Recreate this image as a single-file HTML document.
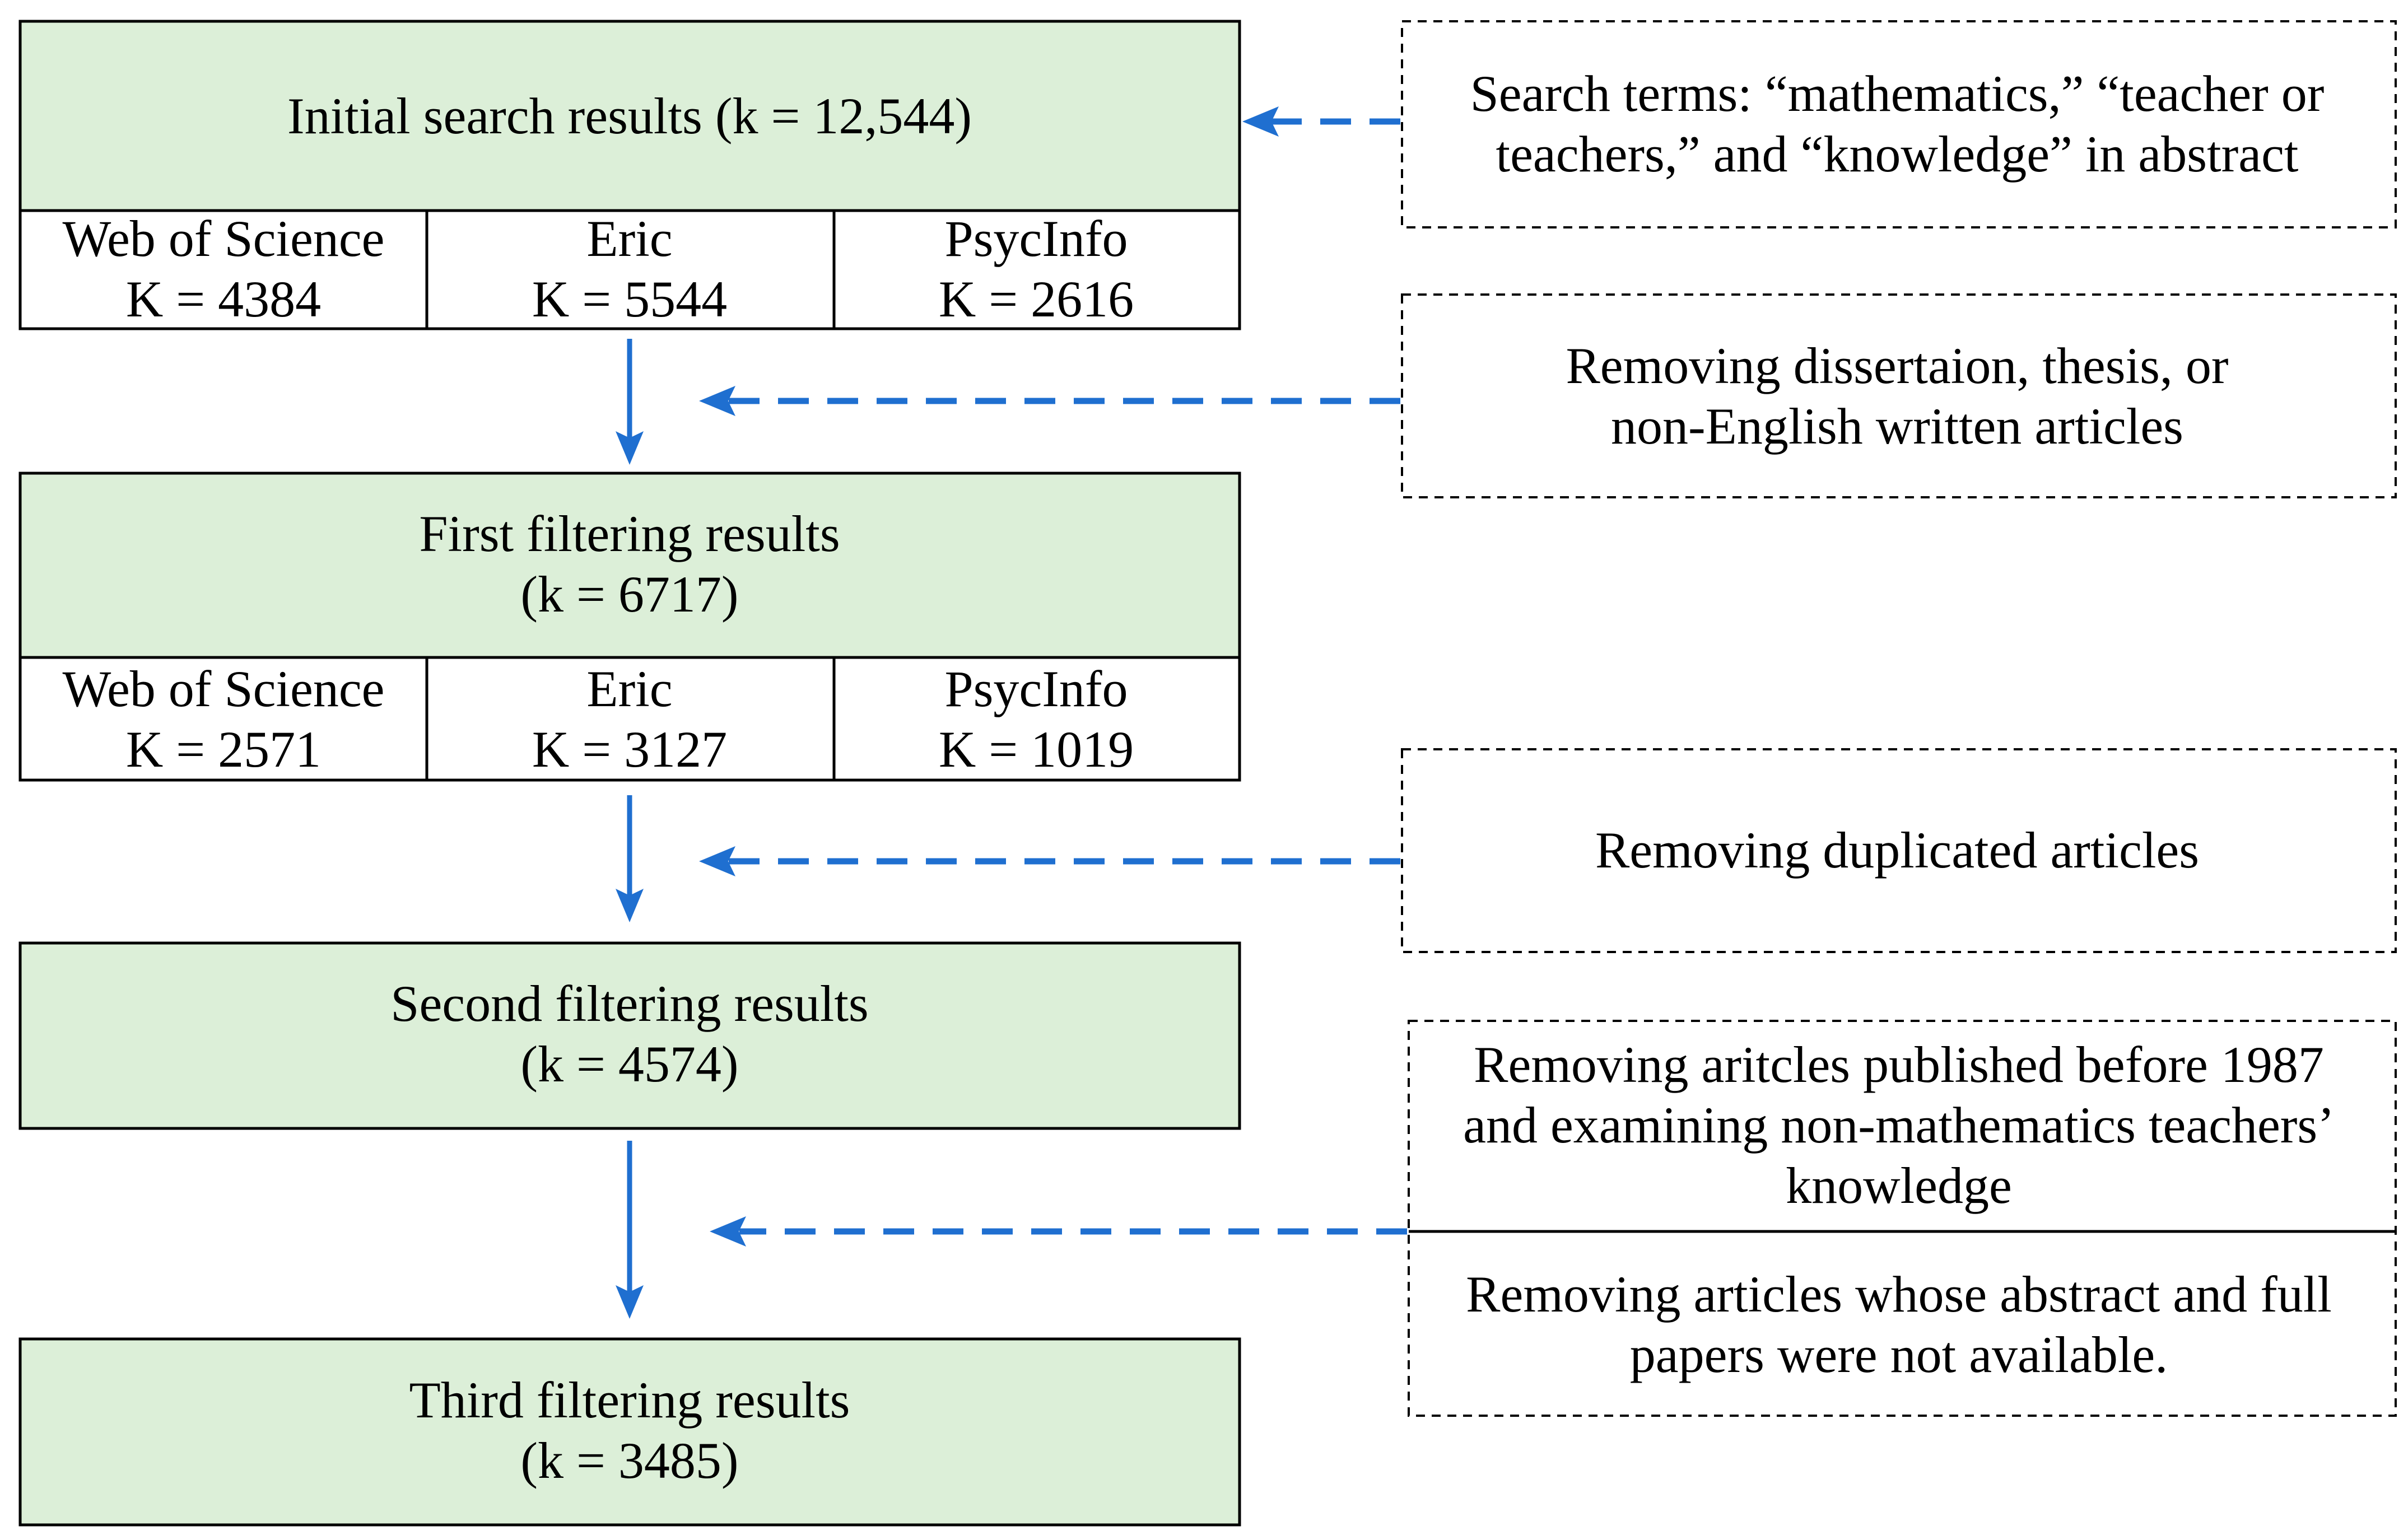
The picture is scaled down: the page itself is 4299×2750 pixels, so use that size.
<!DOCTYPE html>
<html><head><meta charset="utf-8"><style>html,body{margin:0;padding:0;background:#fff}svg{display:block}</style></head>
<body>
<svg width="4299" height="2750" viewBox="0 0 4299 2750" xmlns="http://www.w3.org/2000/svg" font-family="'Liberation Serif', serif" font-size="92" fill="#000">
<g stroke="#000" stroke-width="5">
<rect x="36" y="38" width="2177" height="338" fill="#dcefd8"/>
<rect x="36" y="376" width="2177" height="211" fill="#fff"/>
<line x1="762" y1="376" x2="762" y2="587"/><line x1="1489" y1="376" x2="1489" y2="587"/>
<rect x="36" y="845" width="2177" height="329" fill="#dcefd8"/>
<rect x="36" y="1174" width="2177" height="219" fill="#fff"/>
<line x1="762" y1="1174" x2="762" y2="1393"/><line x1="1489" y1="1174" x2="1489" y2="1393"/>
<rect x="36" y="1684" width="2177" height="331" fill="#dcefd8"/>
<rect x="36" y="2391" width="2177" height="332" fill="#dcefd8"/>
</g>
<g stroke="#000" stroke-width="4" stroke-dasharray="16 12" fill="none">
<rect x="2503" y="38" width="1774" height="368"/>
<rect x="2503" y="526" width="1774" height="362"/>
<rect x="2503" y="1338" width="1774" height="362"/>
<rect x="2515" y="1823" width="1762" height="705"/>
</g>
<line x1="2515" y1="2199" x2="4277" y2="2199" stroke="#000" stroke-width="5"/>
<g stroke="#1f6fd0" stroke-width="9" fill="none">
<line x1="1124" y1="605" x2="1124" y2="790"/>
<line x1="1124" y1="1420" x2="1124" y2="1607"/>
<line x1="1124" y1="2037" x2="1124" y2="2315"/>
</g>
<g fill="#1f6fd0">
<path d="M1124,830 L1099,770 L1124,782 L1149,770 z"/>
<path d="M1124,1647 L1099,1587 L1124,1599 L1149,1587 z"/>
<path d="M1124,2355 L1099,2295 L1124,2307 L1149,2295 z"/>
</g>
<g stroke="#1f6fd0" stroke-width="11" fill="none" stroke-dasharray="55 33">
<line x1="2500" y1="217" x2="2250" y2="217"/>
<line x1="2500" y1="716" x2="1300" y2="716"/>
<line x1="2500" y1="1538" x2="1300" y2="1538"/>
<line x1="2512" y1="2199" x2="1320" y2="2199"/>
</g>
<g fill="#1f6fd0">
<path d="M2218,217 L2283,190 L2270,217 L2283,244 z"/>
<path d="M1248,716 L1313,689 L1300,716 L1313,743 z"/>
<path d="M1248,1538 L1313,1511 L1300,1538 L1313,1565 z"/>
<path d="M1267,2199 L1332,2172 L1319,2199 L1332,2226 z"/>
</g>
<g text-anchor="middle">
<text x="1124" y="238">Initial search results (k = 12,544)</text>
<text x="399" y="457">Web of Science</text><text x="399" y="565">K = 4384</text>
<text x="1124" y="457">Eric</text><text x="1124" y="565">K = 5544</text>
<text x="1850" y="457">PsycInfo</text><text x="1850" y="565">K = 2616</text>
<text x="1124" y="984">First filtering results</text>
<text x="1124" y="1092">(k = 6717)</text>
<text x="399" y="1261">Web of Science</text><text x="399" y="1369">K = 2571</text>
<text x="1124" y="1261">Eric</text><text x="1124" y="1369">K = 3127</text>
<text x="1850" y="1261">PsycInfo</text><text x="1850" y="1369">K = 1019</text>
<text x="1124" y="1823">Second filtering results</text>
<text x="1124" y="1931">(k = 4574)</text>
<text x="1124" y="2531">Third filtering results</text>
<text x="1124" y="2639">(k = 3485)</text>
<text x="3387" y="198">Search terms: “mathematics,” “teacher or</text>
<text x="3387" y="306">teachers,” and “knowledge”  in abstract</text>
<text x="3387" y="684">Removing dissertaion, thesis, or</text>
<text x="3387" y="792">non-English written articles</text>
<text x="3387" y="1549">Removing duplicated articles</text>
<text x="3390" y="1932">Removing aritcles published before 1987</text>
<text x="3390" y="2040">and examining non-mathematics teachers’</text>
<text x="3390" y="2148">knowledge</text>
<text x="3390" y="2342">Removing articles whose abstract and full</text>
<text x="3390" y="2450">papers were not available.</text>
</g>
</svg>
</body></html>
